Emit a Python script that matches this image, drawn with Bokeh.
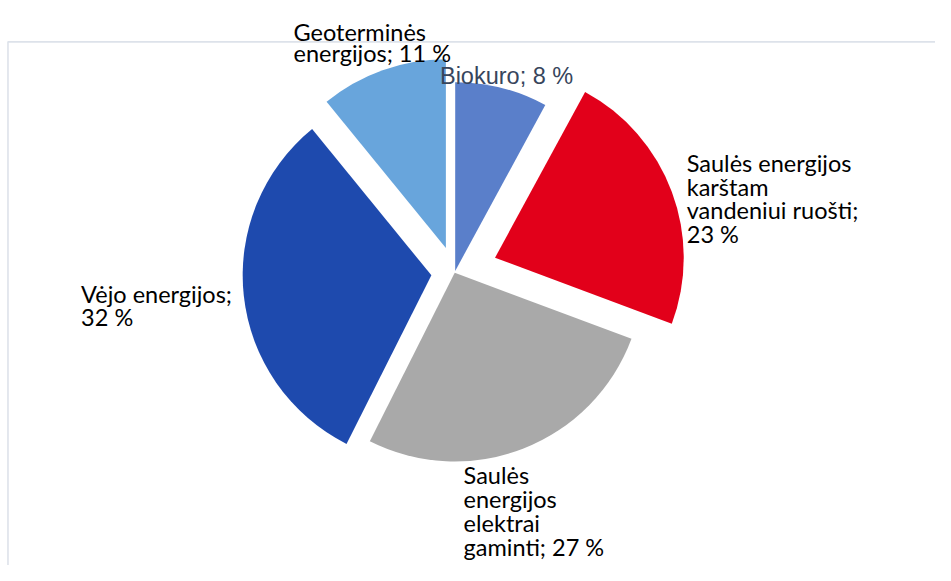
import math
from bokeh.plotting import figure
from bokeh.models import Range1d, ColumnDataSource
from bokeh.core.properties import value
from bokeh.embed import file_html
from bokeh.resources import INLINE

# ---------------- data ----------------
categories = ["Biokuro",
              "Saulės energijos karštam vandeniui ruošti",
              "Saulės energijos elektrai gaminti",
              "Vėjo energijos",
              "Geoterminės energijos"]
values = [8, 23, 27, 32, 11]

# ---------------- styles / layout (reference pixels) ----------------
colors = ["#5a7fca", "#e2001a", "#a9a9a9", "#1e4aae", "#68a5dc"]
explode_ref = [2, 44, 0, 24, 27]         # explosion of each slice
radius_ref = 193
center_ref = (462, 280)                  # pie centre
label_wrap = [[3], [2, 1, 2, 2], [1, 1, 1, 3], [2, 2], [1, 3]]
label_pos = [(447, 78, 24), (698, 167, 24.3), (471, 488, 24.5),
             (82, 302, 23), (298, 32, 22)]
label_font = ["Liberation Sans", "Lato", "Lato", "Lato", "Lato"]
label_size_ref = [24, 24, 24, 24, 24]
label_color = ["#37455c", "#000000", "#000000", "#000000", "#000000"]

REF_W, REF_H = 951, 581
W, H = 935, 565
SX, SY = W / REF_W, H / REF_H
SR = math.sqrt(SX * SY)


def to_data(rx, ry):
    return rx * SX, H - ry * SY


p = figure(width=W, height=H, x_range=Range1d(0, W), y_range=Range1d(0, H),
           output_backend="svg", toolbar_location=None, min_border=0,
           x_axis_location=None, y_axis_location=None,
           outline_line_color=None, background_fill_color="white",
           border_fill_color="white")
p.xgrid.visible = False
p.ygrid.visible = False

# chart-area frame (light grey, runs off the right and bottom)
fx, fy = to_data(7.6, 42.5)
p.line(x=[fx, fx, W + 50], y=[-50, fy, fy], line_color="#dde2ea", line_width=1.6)

# wedges
total = sum(values)
cx, cy = to_data(*center_ref)
R = radius_ref * SR
xs, ys, starts, ends = [], [], [], []
cum = 0
for v, d in zip(values, explode_ref):
    a = cum / total
    b = (cum + v) / total
    cum += v
    mid = math.pi / 2 - math.pi * (a + b)
    xs.append(cx + d * SR * math.cos(mid))
    ys.append(cy + d * SR * math.sin(mid))
    starts.append(math.pi / 2 - 2 * math.pi * b)
    ends.append(math.pi / 2 - 2 * math.pi * a)

src = ColumnDataSource(dict(x=xs, y=ys, start=starts, end=ends, color=colors))
p.wedge(x="x", y="y", radius=R, start_angle="start", end_angle="end",
        fill_color="color", line_color=None, source=src)

# labels
for cat, v, wrap, pos, fnt, fs, col in zip(categories, values, label_wrap,
                                           label_pos, label_font, label_size_ref,
                                           label_color):
    words = f"{cat}; {v} %".split(" ")
    lines, k = [], 0
    for n in wrap:
        lines.append(" ".join(words[k:k + n]))
        k += n
    lx, ly, sp = pos
    tx, ty = [], []
    for i, _ in enumerate(lines):
        dx, dy = to_data(lx, ly + i * sp)
        tx.append(dx)
        ty.append(dy)
    p.text(x=tx, y=ty, text=lines, text_font=value(fnt),
           text_font_size=value(f"{fs * SR:.1f}px"),
           text_color=col, text_baseline="alphabetic", text_align="left")

open("out.html", "w").write(file_html(p, INLINE))
